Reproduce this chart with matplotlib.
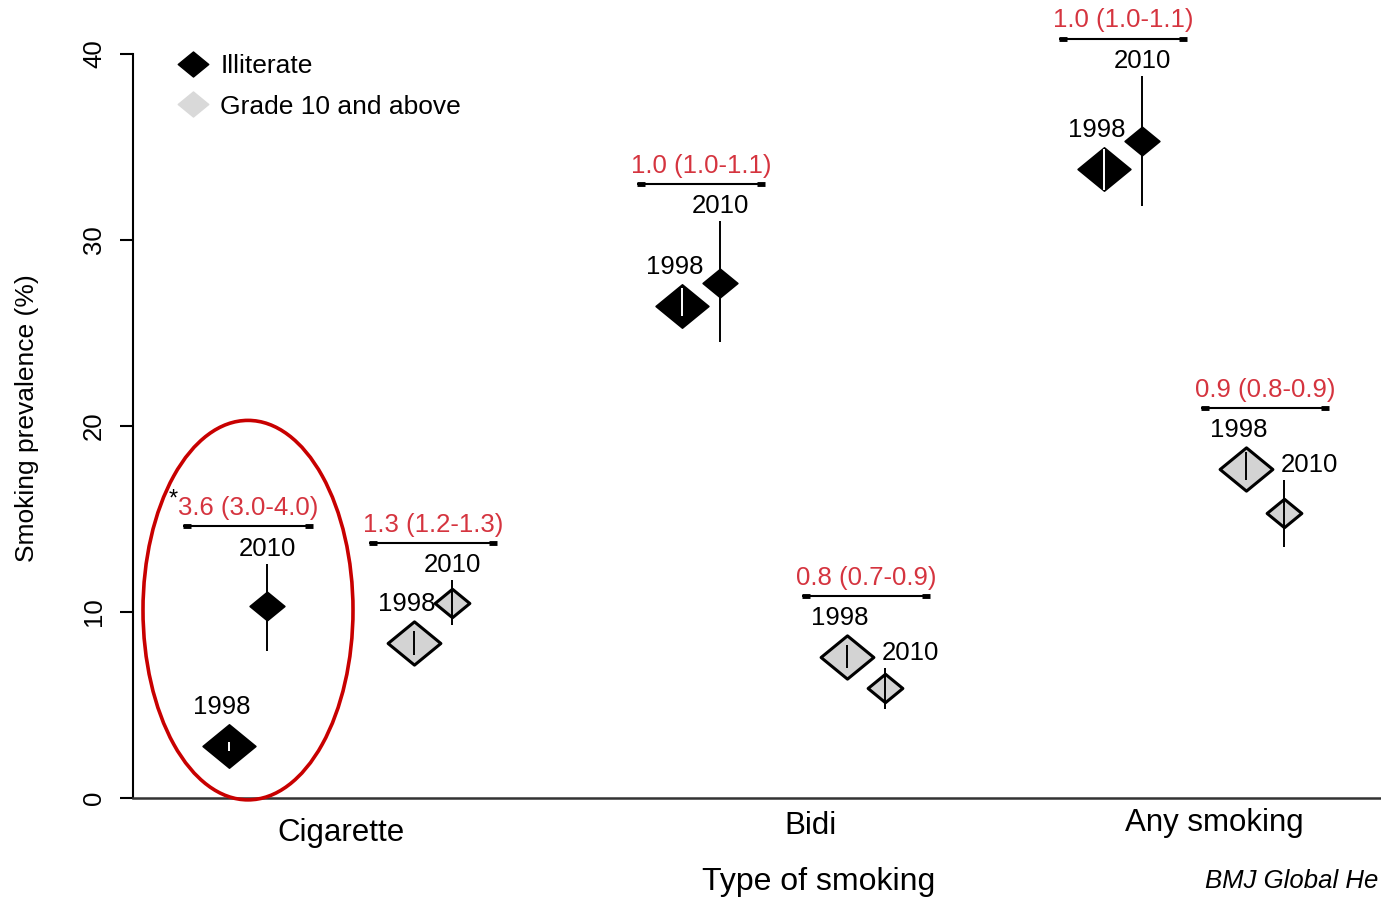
import matplotlib
matplotlib.use('Agg')
import matplotlib.pyplot as plt
from matplotlib.path import Path
from matplotlib.patches import Ellipse
from matplotlib.lines import Line2D

plt.rcParams['font.family'] = ['Liberation Sans', 'DejaVu Sans']

# prevalence (%) by type of smoking [category][education group]
categories = ['Cigarette', 'Bidi', 'Any smoking']
groups = ['Illiterate', 'Grade 10 and above']
years = ['1998', '2010']

prev_1998 = [[2.8, 8.35], [26.45, 7.6], [33.8, 17.7]]
lo_1998 = [[2.5, 7.7], [25.9, 7.0], [32.7, 17.1]]
hi_1998 = [[3.0, 9.0], [27.4, 8.2], [34.9, 18.6]]

prev_2010 = [[10.3, 10.5], [27.7, 5.9], [35.3, 15.3]]
lo_2010 = [[7.9, 9.3], [24.5, 4.8], [31.8, 13.5]]
hi_2010 = [[12.6, 11.7], [31.0, 7.0], [38.8, 17.1]]

ratio_labels = [['3.6 (3.0-4.0)', '1.3 (1.2-1.3)'],
                ['1.0 (1.0-1.1)', '0.8 (0.7-0.9)'],
                ['1.0 (1.0-1.1)', '0.9 (0.8-0.9)']]
ratio_star = [[True, False], [False, False], [False, False]]

RED = '#d5343f'
GREY = '#d3d3d3'
FS = 18.5

diamond = Path([(-1, 0), (0, 0.82), (1, 0), (0, -0.82), (-1, 0)],
               [Path.MOVETO, Path.LINETO, Path.LINETO, Path.LINETO, Path.CLOSEPOLY])

# layout
group_x = [[1.15, 3.0], [5.68, 7.33], [9.9, 11.32]]
cat_x = [2.08, 6.78, 10.81]
cat_dy = [-25, -20, -18]
year_shift = 0.193
half_diamond = 1.25
bracket_hw = 0.645

fig = plt.figure(figsize=(13.81, 8.97), dpi=100)
ax = fig.add_axes([133 / 1381, 99 / 897, 1248 / 1381, 798 / 897])
ax.set_xlim(0, 12.48)
ax.set_ylim(0, 42.9)

for c in range(len(categories)):
    for g in range(len(groups)):
        xc = group_x[c][g]
        x0, x1 = xc - year_shift, xc + year_shift
        illiterate = g == 0
        face = 'black' if illiterate else GREY
        mew = 1.2 if illiterate else 2.2

        # 1998: big diamond with the CI drawn inside
        ax.plot(x0, prev_1998[c][g], marker=diamond, ms=38, mfc=face, mec='black',
                mew=mew, ls='none', zorder=3)
        ax.vlines(x0, lo_1998[c][g], hi_1998[c][g],
                  colors='white' if illiterate else 'black', lw=1.4, zorder=4)

        # 2010: small diamond with CI line
        ax.plot(x1, prev_2010[c][g], marker=diamond, ms=25, mfc=face, mec='black',
                mew=mew, ls='none', zorder=3)
        ax.vlines(x1, lo_2010[c][g], hi_2010[c][g], colors='black', lw=1.4, zorder=4)

        # year labels
        ax.text(x0 - 0.07, prev_1998[c][g] + half_diamond + 0.85, years[0],
                ha='center', va='center', fontsize=FS)
        if prev_2010[c][g] < prev_1998[c][g]:
            ax.text(x1 - 0.04, hi_2010[c][g] + 0.8, years[1],
                    ha='left', va='center', fontsize=FS)
        else:
            ax.text(x1, hi_2010[c][g] + 0.8, years[1],
                    ha='center', va='center', fontsize=FS)

        # bracket with ratio
        top = max(hi_2010[c][g], hi_1998[c][g], prev_1998[c][g] + half_diamond)
        by = top + 2.0
        ax.hlines(by, xc - bracket_hw, xc + bracket_hw, colors='black', lw=1.5)
        ax.hlines([by, by], [xc - bracket_hw, xc + bracket_hw - 0.08],
                  [xc - bracket_hw + 0.08, xc + bracket_hw], colors='black', lw=3.5)
        red_txt = ax.text(xc, by + 1.0, ratio_labels[c][g], color=RED,
                          ha='center', va='center', fontsize=FS, clip_on=False)
        if ratio_star[c][g]:
            ax.annotate('*', xy=(0, 0.85), xycoords=red_txt, ha='right', va='center',
                        fontsize=17)

# highlight the cigarette / illiterate pair
ax.add_patch(Ellipse((group_x[0][0], 10.1), width=2.1, height=20.4, fill=False,
                     ec='#c80000', lw=2.6, clip_on=False, zorder=5))

for c, name in enumerate(categories):
    ax.annotate(name, xy=(cat_x[c], 0), xycoords=('data', 'axes fraction'),
                xytext=(0, cat_dy[c]), textcoords='offset points',
                ha='center', va='center', fontsize=22.5)

# axes styling
ax.set_xticks([])
ax.set_yticks([0, 10, 20, 30, 40])
ax.tick_params(axis='y', length=9.5, width=1.5, labelsize=18.5, pad=10, labelrotation=90)
for lbl in ax.get_yticklabels():
    lbl.set_va('center')
for side in ['top', 'right']:
    ax.spines[side].set_visible(False)
ax.spines['left'].set_bounds(0, 40)
ax.spines['left'].set_linewidth(1.5)
ax.spines['bottom'].set_linewidth(1.8)
ax.spines['bottom'].set_color('#333333')

handles = [Line2D([], [], marker=diamond, ls='none', ms=22, mfc='black', mec='black'),
           Line2D([], [], marker=diamond, ls='none', ms=22, mfc='#d9d9d9', mec='#d9d9d9')]
ax.legend(handles, groups, loc='upper left', bbox_to_anchor=(0.032, 0.932),
          frameon=False, fontsize=19, handlelength=1.5, handletextpad=0.3,
          labelspacing=0.62, borderpad=0, borderaxespad=0)

fig.text(27 / 1381, 1 - 418 / 897, 'Smoking prevalence (%)', rotation=90,
         ha='center', va='center', fontsize=19)
fig.text(819 / 1381, 1 - 882 / 897, 'Type of smoking', ha='center', va='center', fontsize=23)
fig.text(1205 / 1381, 1 - 881 / 897, 'BMJ Global He', ha='left', va='center',
         fontsize=18.5, style='italic')

fig.savefig('out.png', dpi=100)
